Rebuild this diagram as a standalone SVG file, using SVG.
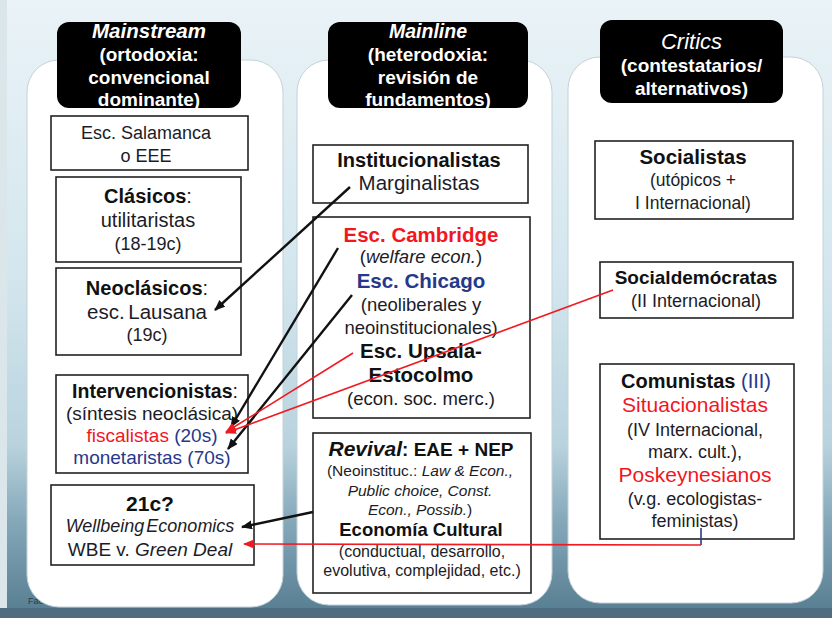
<svg xmlns="http://www.w3.org/2000/svg" width="832" height="618" viewBox="0 0 832 618">
<defs>
<linearGradient id="bg" x1="0" y1="0" x2="0" y2="1">
<stop offset="0" stop-color="#eaf3f7"/>
<stop offset="0.45" stop-color="#d3e6ee"/>
<stop offset="0.72" stop-color="#b9d3de"/>
<stop offset="0.84" stop-color="#86a9ba"/>
<stop offset="1" stop-color="#557b90"/>
</linearGradient>
<marker id="ab" markerUnits="userSpaceOnUse" markerWidth="12" markerHeight="10" refX="10" refY="4.5" orient="auto">
<path d="M0,0 L11,4.5 L0,9 z" fill="#111"/>
</marker>
<marker id="ar" markerUnits="userSpaceOnUse" markerWidth="12" markerHeight="10" refX="10" refY="4.5" orient="auto">
<path d="M0,0 L11,4.5 L0,9 z" fill="#f01a22"/>
</marker>
</defs>
<style>
text{font-family:"Liberation Sans",Arial,sans-serif;text-anchor:middle;fill:#1c1c28}
.h{fill:#fff;font-weight:bold;font-size:19px}
.hd{fill:#000}
.pn{fill:#fff;stroke:#c4d2d9;stroke-width:1}
.bx{fill:#fff;stroke:#222;stroke-width:1.6}
.b{font-weight:bold;fill:#111}
.i{font-style:italic}
.n{font-weight:normal}
.red{fill:#f2161f}
.nv{fill:#26388a}
.lb{fill:none;stroke:#111;stroke-width:2.4}
.lr{fill:none;stroke:#f01a22;stroke-width:1.6}
</style>

<rect x="0" y="0" width="832" height="618" fill="url(#bg)"/>
<rect x="0" y="0" width="7" height="618" fill="#dbe6eb"/>
<rect x="0" y="608" width="832" height="10" fill="#4f6d7e"/>
<text x="28" y="604" style="font-size:9px;text-anchor:start;fill:#2a3a44">Facultad</text>

<g id="panel-mainstream">
<rect class="pn" x="27" y="60" width="256" height="547" rx="32"/>
<rect class="hd" x="57" y="22" width="184" height="86" rx="12"/>
<text class="h" x="149" y="37.5" style="font-size:20.5px"><tspan class="i">Mainstream</tspan></text>
<text class="h" x="149" y="61">(ortodoxia:</text>
<text class="h" x="149" y="84">convencional</text>
<text class="h" x="149" y="106">dominante)</text>
</g>
<g id="panel-mainline">
<rect class="pn" x="297" y="60" width="255" height="545" rx="32"/>
<rect class="hd" x="328" y="22" width="200" height="86" rx="12"/>
<text class="h" x="428" y="37.5" style="font-size:19.5px"><tspan class="i">Mainline</tspan></text>
<text class="h" x="428" y="61">(heterodoxia:</text>
<text class="h" x="428" y="84">revisión de</text>
<text class="h" x="428" y="106">fundamentos)</text>
</g>
<g id="panel-critics">
<rect class="pn" x="568" y="57" width="255" height="546" rx="32"/>
<rect class="hd" x="600" y="20" width="183" height="83" rx="12"/>
<text class="h i n" x="691.5" y="49" style="font-size:22px">Critics</text>
<text class="h" x="691.5" y="72">(contestatarios/</text>
<text class="h" x="691.5" y="95">alternativos)</text>
</g>

<g id="salamanca">
<rect class="bx" x="51" y="116" width="197" height="54"/>
<text x="146" y="139" style="font-size:18px">Esc. Salamanca</text>
<text x="146" y="162" style="font-size:18px">o EEE</text>
</g>
<g id="clasicos">
<rect class="bx" x="56" y="177" width="185" height="85"/>
<text x="148" y="203" style="font-size:20px"><tspan class="b">Clásicos</tspan>:</text>
<text x="148" y="227" style="font-size:20px">utilitaristas</text>
<text x="148" y="250" style="font-size:18px">(18-19c)</text>
</g>
<g id="neoclasicos">
<rect class="bx" x="56" y="268" width="185" height="87"/>
<text x="147" y="295" style="font-size:20px"><tspan class="b">Neoclásicos</tspan>:</text>
<text x="147" y="319" style="font-size:20.5px;word-spacing:-2px">esc. Lausana</text>
<text x="147" y="341" style="font-size:18px">(19c)</text>
</g>
<g id="intervencionistas">
<rect class="bx" x="56" y="375" width="192" height="98"/>
<text x="155" y="398" style="font-size:19.5px"><tspan class="b">Intervencionistas</tspan>:</text>
<text x="152" y="420" style="font-size:19px">(síntesis neoclásica)</text>
<text x="152" y="442" style="font-size:19px"><tspan class="red">fiscalistas</tspan><tspan class="nv"> (20s)</tspan></text>
<text x="152" y="464" style="font-size:19px" class="nv">monetaristas (70s)</text>
</g>
<g id="c21">
<rect class="bx" x="51" y="485" width="203" height="80"/>
<text x="150" y="511" style="font-size:21px" class="b">21c?</text>
<text x="150" y="532" style="font-size:18px;word-spacing:-3px" class="i">Wellbeing Economics</text>
<text x="150" y="556" style="font-size:19px">WBE v. <tspan class="i">Green Deal</tspan></text>
</g>

<g id="institucionalistas">
<rect class="bx" x="313" y="145" width="215" height="58"/>
<text x="419" y="167" style="font-size:20px" class="b">Institucionalistas</text>
<text x="419" y="190" style="font-size:20.5px">Marginalistas</text>
</g>
<g id="cambridge">
<rect class="bx" x="313" y="217" width="217" height="201"/>
<text x="421" y="242" style="font-size:20.5px" class="b red">Esc. Cambridge</text>
<text x="421" y="263" style="font-size:18.5px">(<tspan class="i">welfare econ.</tspan>)</text>
<text x="421" y="288" style="font-size:20.5px" class="b nv">Esc. Chicago</text>
<text x="421" y="311" style="font-size:18.5px">(neoliberales y</text>
<text x="421" y="334" style="font-size:18.5px">neoinstitucionales)</text>
<text x="421" y="358" style="font-size:20.5px" class="b">Esc. Upsala-</text>
<text x="421" y="382" style="font-size:20.5px" class="b">Estocolmo</text>
<text x="421" y="405" style="font-size:18.5px">(econ. soc. merc.)</text>
</g>
<g id="revival">
<rect class="bx" x="313" y="433" width="218" height="160"/>
<text x="421" y="456" style="font-size:19px" class="b"><tspan class="i" style="font-size:21px">Revival</tspan>: EAE + NEP</text>
<text x="420" y="476" style="font-size:15.5px">(Neoinstituc.: <tspan class="i">Law &amp; Econ.,</tspan></text>
<text x="420" y="496" style="font-size:15.5px" class="i">Public choice, Const.</text>
<text x="420" y="515" style="font-size:15.5px"><tspan class="i">Econ., Possib.</tspan>)</text>
<text x="421" y="536" style="font-size:18.5px" class="b">Economía Cultural</text>
<text x="422" y="557" style="font-size:16px">(conductual, desarrollo,</text>
<text x="422" y="576" style="font-size:16px">evolutiva, complejidad, etc.)</text>
</g>

<g id="socialistas">
<rect class="bx" x="595" y="141" width="198" height="78"/>
<text x="693" y="164" style="font-size:20.5px" class="b">Socialistas</text>
<text x="693" y="186" style="font-size:17.5px">(utópicos +</text>
<text x="693" y="209" style="font-size:17.5px">I Internacional)</text>
</g>
<g id="socialdemocratas">
<rect class="bx" x="600" y="262" width="193" height="56"/>
<text x="696" y="284" style="font-size:19px" class="b">Socialdemócratas</text>
<text x="696" y="307" style="font-size:18px">(II  Internacional)</text>
</g>
<g id="comunistas">
<rect class="bx" x="600" y="364" width="194" height="175"/>
<text x="696" y="388" style="font-size:20px"><tspan class="b">Comunistas</tspan><tspan class="nv"> (III)</tspan></text>
<text x="695" y="412" style="font-size:21px" class="red">Situacionalistas</text>
<text x="695" y="436" style="font-size:18px">(IV Internacional,</text>
<text x="695" y="458" style="font-size:18px">marx. cult.),</text>
<text x="695" y="482" style="font-size:21px" class="red">Poskeynesianos</text>
<text x="695" y="505" style="font-size:18px">(v.g. ecologistas-</text>
<text x="695" y="527" style="font-size:18px">feministas)</text>
</g>

<g id="connectors">
<line class="lb" x1="350" y1="187" x2="215" y2="310" marker-end="url(#ab)"/>
<line class="lb" x1="338" y1="248" x2="231" y2="427" marker-end="url(#ab)"/>
<line class="lb" x1="352" y1="295" x2="228" y2="449" marker-end="url(#ab)"/>
<line class="lr" x1="353" y1="353" x2="226" y2="432" marker-end="url(#ar)"/>
<line class="lr" x1="613" y1="290" x2="226" y2="433" marker-end="url(#ar)"/>
<line class="lb" x1="313" y1="512" x2="242" y2="527" marker-end="url(#ab)"/>
<line x1="701" y1="528" x2="701" y2="545" stroke="#303a80" stroke-width="1.6"/>
<polyline class="lr" points="701,545 244,544" marker-end="url(#ar)"/>
</g>
</svg>
